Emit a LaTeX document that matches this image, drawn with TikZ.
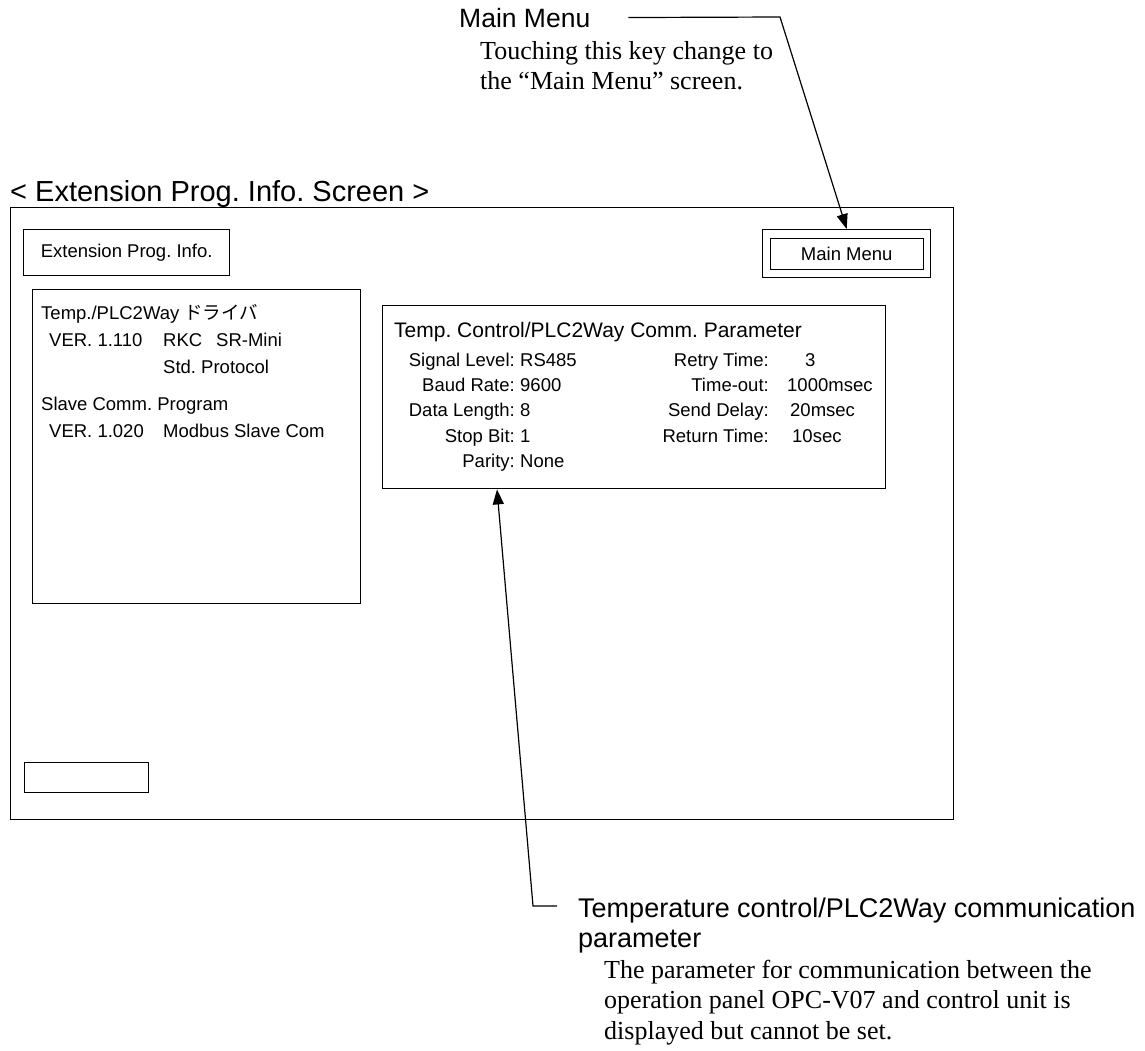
\documentclass[tikz,border=0pt]{standalone}
\usepackage{fontspec}
\setmainfont{Liberation Serif}
\setsansfont{Liberation Sans}
\newfontfamily\jpfont{Noto Sans CJK JP}
\usetikzlibrary{arrows.meta,positioning,calc}
\frenchspacing

\tikzset{
    % frames of the screen and its keys
    panel/.style={
        draw, line width=1.4pt, inner sep=0pt, anchor=north west
    },
    uitext/.style={
        font=\sffamily\fontsize{18.5}{22}\selectfont, inner sep=0pt
    },
    headline/.style={
        font=\sffamily\fontsize{27}{31}\selectfont, inner sep=0pt,
        anchor=base west
    },
    remark/.style={
        font=\rmfamily\fontsize{26}{30}\selectfont, inner sep=0pt,
        anchor=base west
    },
    pointer/.style={
        -{Triangle[length=15pt,width=11pt]}, line width=1.2pt
    }
}

\begin{document}
\begin{tikzpicture}[x=1pt, y=-1pt]
\useasboundingbox (0,0) rectangle (1145,1050);

% title and outer frame
\node[headline, font=\sffamily\fontsize{29}{33}\selectfont] (title) at (10,201) {< Extension Prog. Info. Screen >};
\node[panel, minimum width=943, minimum height=612] (screen) at (10,207) {};

% keys in the header
\node[panel, uitext, minimum width=206, minimum height=46] (extkey) at (23,229) {Extension Prog. Info.};
\node[panel, minimum width=168, minimum height=48] (menuframe) at (762,229) {};
\node[panel, uitext, anchor=center, minimum width=153, minimum height=31] (menukey) at (menuframe.center) {Main Menu};

% program list
\node[panel, minimum width=328, minimum height=314] (proglist) at (32,289) {};
\node[uitext, anchor=base west] (drvname) at (41,319) {Temp./PLC2Way {\jpfont ドライバ}};
\node[uitext, anchor=base west] (drvver) at (49,346) {VER. 1.110};
\node[uitext, anchor=base west] (drvmaker) at (163,346) {RKC};
\node[uitext, anchor=base west] (drvmodel) at (216,346) {SR-Mini};
\node[uitext, anchor=base west] (drvproto) at (163,373) {Std. Protocol};
\node[uitext, anchor=base west] (slvname) at (41,410) {Slave Comm. Program};
\node[uitext, anchor=base west] (slvver) at (49,437) {VER. 1.020};
\node[uitext, anchor=base west] (slvproto) at (163,437) {Modbus Slave Com};

% communication parameters
\node[panel, minimum width=503, minimum height=183] (param) at (382,305) {};
\node[uitext, anchor=base west, font=\sffamily\fontsize{21}{25}\selectfont] (paramtitle) at (394,337) {Temp. Control/PLC2Way Comm. Parameter};
\foreach \n/\y/\key/\val in {1/366/Signal Level/RS485, 2/391/Baud Rate/9600,
        3/416/Data Length/8, 4/442/Stop Bit/1, 5/467/Parity/None} {
    \node[uitext, anchor=base east] (lkey\n) at (515,\y) {\key:};
    \node[uitext, anchor=base west] (lval\n) at (520,\y) {\val};
}
\foreach \n/\y/\key/\x/\val in {1/366/Retry Time/805/3, 2/391/Time-out/787/1000msec,
        3/416/Send Delay/790/20msec, 4/442/Return Time/792/10sec} {
    \node[uitext, anchor=base east] (rkey\n) at (769,\y) {\key:};
    \node[uitext, anchor=base west] (rval\n) at (\x,\y) {\val};
}

% empty key at the bottom
\node[panel, minimum width=124, minimum height=30] (blankkey) at (24,762) {};

% callout: main menu key
\node[headline, font=\sffamily\fontsize{26.5}{30}\selectfont] (menulabel) at (459,27) {Main Menu};
\node[remark] (menunote1) at (480,59) {Touching this key change to};
\node[remark] (menunote2) at (480,89) {the ``Main Menu'' screen.};
\coordinate (menutail) at ([xshift=38pt]menulabel.east);
\coordinate (menubend) at (780,17);
\draw[pointer] (menutail) -- (menubend) -- (menuframe.north);

% callout: parameter box
\node[headline] (paramlabel) at (578,917) {Temperature control/PLC2Way communication};
\node[headline] (paramlabel2) at (578,947) {parameter};
\node[remark] (paramnote1) at (604,978) {The parameter for communication between the};
\node[remark] (paramnote2) at (604,1008) {operation panel OPC-V07 and control unit is};
\node[remark] (paramnote3) at (604,1039) {displayed but cannot be set.};
\coordinate (paramtail) at (557,906);
\coordinate (parambend) at (533,906);
\draw[pointer] (paramtail) -- (parambend) -- ([xshift=115pt]param.south west);

\end{tikzpicture}
\end{document}
